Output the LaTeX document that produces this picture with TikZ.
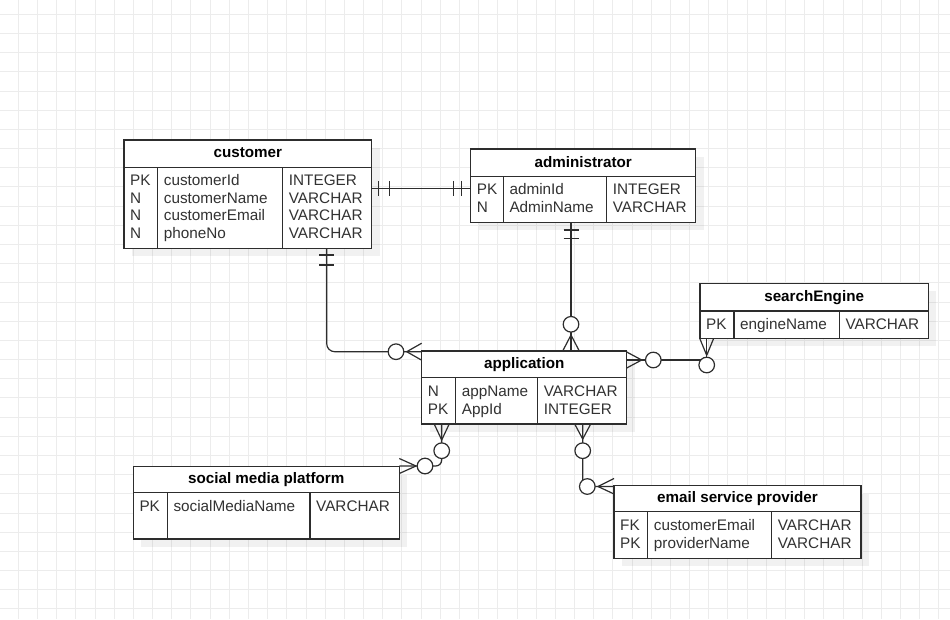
\documentclass[tikz,border=0pt]{standalone}
\usepackage{fontspec}
\setmainfont{Liberation Sans}
\usetikzlibrary{calc}
\definecolor{gridc}{RGB}{236,236,236}
\definecolor{ln}{RGB}{45,45,45}
\definecolor{txt}{RGB}{50,50,50}
\tikzset{
 tbl/.style={draw=ln, line width=1.2pt, fill=white, inner sep=0pt, outer sep=0pt, anchor=north west},
 shadowbox/.style={fill=black, fill opacity=0.055, draw=none},
 ttl/.style={font={\bfseries\fontsize{15.2}{18}\selectfont}, text=black, anchor=base, inner sep=0pt},
 rowtxt/.style={font={\fontsize{15.3}{18}\selectfont}, text=txt, anchor=base west, inner sep=0pt},
 conn/.style={draw=ln, line width=1.2pt, line join=round},
 zc/.style={circle, draw=ln, fill=white, line width=1.2pt, minimum size=15.6pt, inner sep=0pt},
 gridline/.style={draw=gridc, line width=0.9pt},
}
% name, x1, y1, x2, y2, header bottom, divider1, divider2, title
\newcommand\ertab[9]{%
 \fill[shadowbox] (#2+8,#3+8) rectangle (#4+8,#5+8);
 \node[tbl, minimum width={(#4-#2)*1pt}, minimum height={(#5-#3)*1pt}] (#1) at (#2,#3) {};
 \draw[conn] (#2,#6) -- (#4,#6) (#7,#6) -- (#7,#5) (#8,#6) -- (#8,#5);
 \node[ttl] (#1-t) at ({(#2+#4)/2},{(#3+#6)/2+4.2}) {#9};
}
% name, xcol1, xcol2, xcol3, first baseline, list
\newcommand\ertrows[6]{%
 \foreach \colA/\colB/\colC [count=\i] in {#6} {
  \node[rowtxt] (#1-a\i) at (#2,{#5+(\i-1)*17.7}) {\colA};
  \node[rowtxt] (#1-b\i) at (#3,{#5+(\i-1)*17.7}) {\colB};
  \node[rowtxt] (#1-c\i) at (#4,{#5+(\i-1)*17.7}) {\colC};
 }}
\begin{document}
\begin{tikzpicture}[x=1pt,y=-1pt]
\useasboundingbox (0,0) rectangle (950,619);
\fill[white] (0,0) rectangle (950,619);
\foreach \i in {0,...,49} \draw[gridline] ({\i*19.18-0.9},0) -- ++(0,619);
\foreach \j in {0,...,31} \draw[gridline] (0,{14.3+\j*19.18}) -- ++(950,0);

% tables
\ertab{cust}{124}{140}{371.7}{248.3}{167.3}{157.7}{282.7}{customer}
\ertrows{cust}{130}{163.7}{288.7}{185.5}{PK/customerId/INTEGER, N/customerName/VARCHAR, N/customerEmail/VARCHAR, N/phoneNo/VARCHAR}

\ertab{adm}{470.7}{149}{695.7}{222.3}{176.7}{503.3}{606.7}{administrator}
\ertrows{adm}{476.7}{509.3}{612.7}{194.5}{PK/adminId/INTEGER, N/AdminName/VARCHAR}

\ertab{srch}{700}{283.3}{928.3}{338.3}{311}{734}{839.3}{searchEngine}
\ertrows{srch}{706}{740}{845.3}{329.5}{PK/engineName/VARCHAR}

\ertab{app}{421.7}{351}{626.7}{424}{377.7}{455.7}{537.7}{application}
\ertrows{app}{427.7}{461.7}{543.7}{396.5}{N/appName/VARCHAR, PK/AppId/INTEGER}

\ertab{soc}{133.3}{466.7}{399.3}{539}{492.7}{167.3}{310}{social media platform}
\ertrows{soc}{139.3}{173.3}{316}{511}{PK/socialMediaName/VARCHAR}

\ertab{email}{614}{485.7}{861}{558.3}{511.7}{647.7}{771.7}{email service provider}
\ertrows{email}{620}{653.7}{777.7}{530.5}{FK/customerEmail/VARCHAR, PK/providerName/VARCHAR}

% customer -- administrator (one to one)
\coordinate (ca1) at (371.7,188.3);
\coordinate (ca2) at (470.7,188.3);
\draw[conn] (ca1) -- (ca2);
\draw[conn] ($(ca1)+(6.6,-7.5)$) -- ++(0,15);
\draw[conn] ($(ca1)+(17.6,-7.5)$) -- ++(0,15);
\draw[conn] ($(ca2)+(-17.4,-7.5)$) -- ++(0,15);
\draw[conn] ($(ca2)+(-9,-7.5)$) -- ++(0,15);

% customer -- application
\coordinate (cp1) at (326.7,248.3);
\coordinate (cp2) at (421.7,351.7);
\draw[conn, rounded corners=8pt] (cp1) |- (cp2);
\draw[conn] ($(cp1)+(-7.5,6.7)$) -- ++(15,0);
\draw[conn] ($(cp1)+(-7.5,16.7)$) -- ++(15,0);
\node[zc] (cpc) at ($(cp2)+(-25.7,0)$) {};
\draw[conn] ($(cp2)+(0,-8.5)$) -- ($(cp2)+(-15,0)$) -- ($(cp2)+(0,8.5)$);

% administrator -- application
\coordinate (ap1) at (571,222.3);
\coordinate (ap2) at (571,351);
\draw[conn] (ap1) -- (ap2);
\draw[conn] ($(ap1)+(-7.5,7.7)$) -- ++(15,0);
\draw[conn] ($(ap1)+(-7.5,16)$) -- ++(15,0);
\node[zc] (apc) at ($(ap2)+(0,-26.7)$) {};
\draw[conn] ($(ap2)+(-8.3,0)$) -- ($(ap2)+(0,-16)$) -- ($(ap2)+(8.3,0)$);

% application -- searchEngine
\coordinate (as1) at (626.7,360);
\coordinate (as2) at (706.7,338.3);
\draw[conn] (as1) -| (as2);
\node[zc] (asc1) at ($(as1)+(26.6,0)$) {};
\draw[conn] ($(as1)+(0,-8)$) -- ($(as1)+(15,0)$) -- ($(as1)+(0,8)$);
\node[zc] (asc2) at ($(as2)+(0,26.7)$) {};
\draw[conn] ($(as2)+(-7,0)$) -- ($(as2)+(0,17)$) -- ($(as2)+(7,0)$);

% application -- social media platform
\coordinate (aso1) at (441.7,424);
\coordinate (aso2) at (399.3,466);
\draw[conn, rounded corners=6pt] (aso1) |- (aso2);
\node[zc] (asoc1) at ($(aso1)+(0,26.7)$) {};
\draw[conn] ($(aso1)+(-7.5,0)$) -- ($(aso1)+(0,16)$) -- ($(aso1)+(7.5,0)$);
\node[zc] (asoc2) at ($(aso2)+(25.7,0)$) {};
\draw[conn] ($(aso2)+(0,-7.5)$) -- ($(aso2)+(16.7,0)$) -- ($(aso2)+(0,7.5)$);

% application -- email service provider
\coordinate (ae1) at (582.7,424);
\coordinate (ae2) at (614,486.5);
\draw[conn, rounded corners=4pt] (ae1) |- (ae2);
\node[zc] (aec1) at ($(ae1)+(0,26.7)$) {};
\draw[conn] ($(ae1)+(-8,0)$) -- ($(ae1)+(0,15)$) -- ($(ae1)+(8,0)$);
\node[zc] (aec2) at ($(ae2)+(-26.7,0)$) {};
\draw[conn] ($(ae2)+(0,-8)$) -- ($(ae2)+(-16,0)$) -- ($(ae2)+(0,7.5)$);
\end{tikzpicture}
\end{document}
